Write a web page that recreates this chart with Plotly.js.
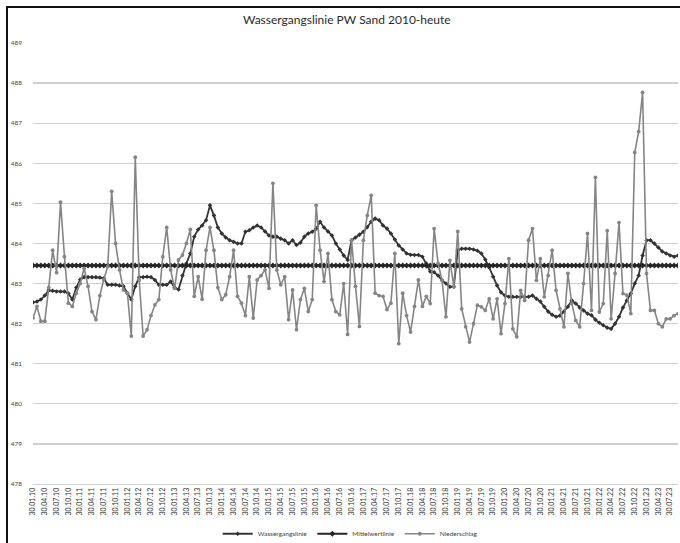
<!DOCTYPE html>
<html>
<head>
<meta charset="utf-8">
<script src="https://cdn.plot.ly/plotly-3.0.1.min.js"></script>
<style>
  html, body { margin: 0; padding: 0; background: #fff; }
  #wrap { position: relative; width: 680px; height: 543px; overflow: hidden; }
  #chart { position: absolute; left: 0; top: 0; width: 680px; height: 543px; }
  #frame { position: absolute; left: 6px; top: 6px; width: 700px; height: 560px;
           border-left: 2px solid #111; border-top: 2px solid #111; pointer-events: none; }
</style>
</head>
<body>
<div id="wrap"><div id="chart"></div><div id="frame"></div></div>
<script>
// Series names
const seriesNames = ["Wassergangslinie", "Mittelwertlinie", "Niederschlag"];

// Monthly values (Jan 2010 onward)
const wasserganglinie = [
 482.53,482.55,482.60,482.70,482.83,482.82,482.80,482.80,482.80,482.75,
 482.60,482.90,483.10,483.16,483.16,483.16,483.16,483.15,483.13,482.97,
 482.97,482.97,482.95,482.93,482.76,482.60,482.93,483.16,483.16,483.17,
 483.16,483.09,482.97,482.97,482.97,483.05,482.90,482.85,483.20,483.50,
 483.75,484.17,484.35,484.45,484.58,484.95,484.70,484.40,484.25,484.15,
 484.08,484.04,484.00,484.00,484.29,484.33,484.40,484.45,484.40,484.30,
 484.20,484.17,484.17,484.12,484.08,484.00,484.08,483.96,484.02,484.17,
 484.25,484.29,484.37,484.54,484.40,484.30,484.20,484.00,483.85,483.70,
 483.59,484.08,484.15,484.22,484.29,484.41,484.54,484.62,484.58,484.45,
 484.37,484.25,484.10,483.95,483.85,483.75,483.72,483.71,483.71,483.67,
 483.50,483.30,483.28,483.20,483.08,483.00,482.92,482.92,483.83,483.87,
 483.87,483.87,483.85,483.82,483.75,483.60,483.40,483.17,482.95,482.78,
 482.70,482.67,482.67,482.67,482.67,482.67,482.67,482.70,482.62,482.55,
 482.42,482.30,482.22,482.17,482.20,482.30,482.42,482.58,482.50,482.40,
 482.33,482.25,482.21,482.10,482.02,481.96,481.90,481.87,482.00,482.17,
 482.40,482.58,482.75,483.00,483.20,483.70,484.08,484.08,484.00,483.90,
 483.80,483.75,483.70,483.67,483.70
];

const niederschlag = [
 482.14,482.43,482.06,482.06,482.90,483.83,483.27,485.03,483.67,482.51,
 482.43,482.76,483.00,483.38,482.93,482.30,482.10,482.70,483.10,483.42,
 485.30,484.00,483.34,482.84,482.76,481.69,486.15,483.09,481.69,481.85,
 482.20,482.47,482.60,483.67,484.40,483.34,482.88,483.59,483.71,484.00,
 484.35,482.68,483.17,482.61,483.83,484.40,483.83,482.90,482.60,482.72,
 483.17,483.83,482.68,482.51,482.20,483.17,482.14,483.09,483.20,483.34,
 482.88,485.50,483.34,482.97,483.17,482.10,482.84,481.85,482.60,482.88,
 482.30,482.60,484.95,483.83,483.05,483.75,482.60,482.30,482.22,483.00,
 481.73,484.08,482.93,481.93,484.08,484.70,485.20,482.76,482.70,482.68,
 482.35,482.51,483.75,481.50,482.76,482.20,481.79,482.43,483.09,482.43,
 482.68,482.50,484.37,483.50,483.08,482.17,483.58,482.92,484.30,482.37,
 481.92,481.54,482.00,482.46,482.42,482.33,482.62,482.12,482.62,481.75,
 482.50,483.62,481.87,481.67,482.83,482.58,484.08,484.37,483.08,483.62,
 482.67,483.20,483.83,482.83,482.37,481.92,483.25,482.50,482.08,481.92,
 483.00,484.25,482.33,485.65,482.29,482.50,484.32,482.12,483.25,484.52,
 482.75,482.71,482.25,486.27,486.79,487.77,483.25,482.33,482.33,482.00,
 481.92,482.12,482.12,482.20,482.25
];

const mittelwert = 483.45;

// Quarterly tick labels
const quarterDays = ["30.01.", "30.04.", "30.07.", "30.10."];
const firstYear = 10;

const n = niederschlag.length;
const xIdx = Array.from({length: n}, (_, i) => i);
const mittelLine = xIdx.map(() => mittelwert);
const tickVals = [], tickText = [];
for (let i = 0; i < n; i += 3) {
  tickVals.push(i);
  const q = (i / 3) % 4;
  const yr = firstYear + Math.floor(i / 12);
  tickText.push(quarterDays[q] + String(yr).padStart(2, "0"));
}

const traces = [
  { x: xIdx, y: wasserganglinie, name: seriesNames[0], type: "scatter", mode: "lines+markers",
    line: {color: "#333333", width: 1.8}, marker: {symbol: "diamond", size: 3.5, color: "#333333"} },
  { x: xIdx, y: mittelLine, name: seriesNames[1], type: "scatter", mode: "lines+markers",
    line: {color: "#262626", width: 2}, marker: {symbol: "diamond", size: 4.5, color: "#262626"} },
  { x: xIdx, y: niederschlag, name: seriesNames[2], type: "scatter", mode: "lines+markers",
    line: {color: "#858585", width: 1.6}, marker: {symbol: "circle", size: 3.8, color: "#858585"} }
];

const layout = {
  width: 680, height: 543,
  paper_bgcolor: "#fff", plot_bgcolor: "#fff",
  margin: {l: 33, r: 2, t: 43, b: 59},
  font: {family: "Lato, 'Open Sans', sans-serif", color: "#444"},
  title: {text: "Wassergangslinie PW Sand 2010-heute", x: 0.51, xanchor: "center",
          yref: "container", y: 0.963, yanchor: "middle", automargin: false,
          font: {size: 12, color: "#2a2a2a", family: "Lato, sans-serif"}},
  showlegend: true,
  legend: {orientation: "h", xref: "container", x: 0.515, xanchor: "center",
           yref: "container", y: 0.017, yanchor: "middle",
           font: {size: 6.5, color: "#444"}, itemwidth: 30, tracegroupgap: 0},
  xaxis: {range: [0, n - 1], tickmode: "array", tickvals: tickVals, ticktext: tickText,
          tickangle: -90, tickfont: {size: 7, color: "#333"}, showgrid: false, zeroline: false,
          showline: true, linecolor: "#cfcfcf", linewidth: 1, ticks: "", automargin: false},
  yaxis: {range: [478, 489], dtick: 1, tickfont: {size: 6.5, color: "#444"}, showgrid: true,
          gridcolor: "#cfcfcf", gridwidth: 1.3, zeroline: false, showline: false, ticks: "",
          ticklabelstandoff: 10, automargin: false}
};

Plotly.newPlot("chart", traces, layout, {displayModeBar: false, staticPlot: true});
</script>
</body>
</html>
